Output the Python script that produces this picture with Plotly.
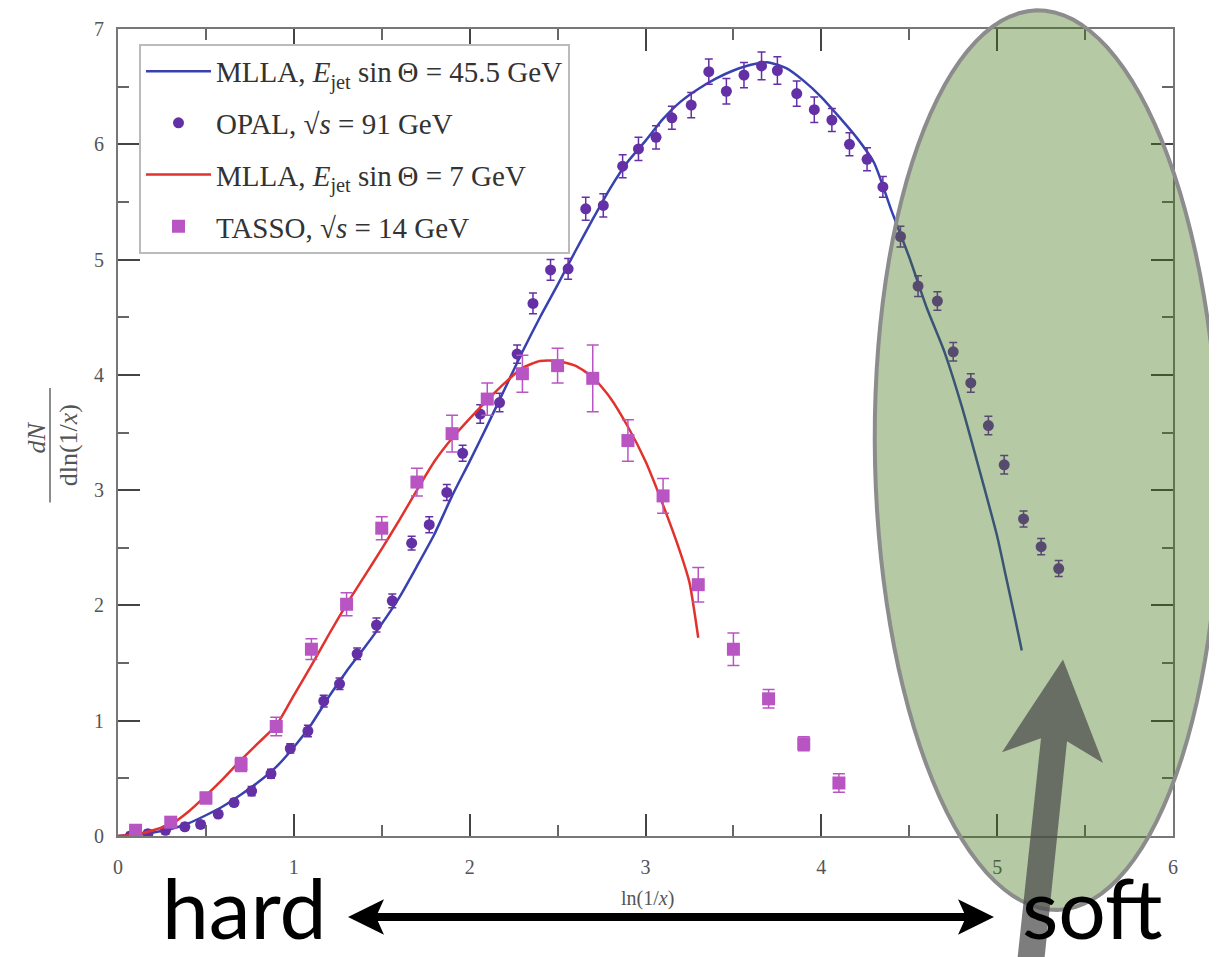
import math
import plotly.graph_objects as go

# ---------------- data ----------------
mlla45_x = [0.0, 0.1, 0.2, 0.3, 0.4, 0.5, 0.6, 0.7, 0.8, 0.9, 1.0, 1.1, 1.2, 1.3, 1.4, 1.5,
            1.6, 1.7, 1.8, 1.9, 2.0, 2.1, 2.2, 2.3, 2.4, 2.5, 2.6, 2.7, 2.8, 2.9, 3.0, 3.1,
            3.2, 3.3, 3.4, 3.5, 3.6, 3.7, 3.8, 3.9, 4.0, 4.1, 4.2, 4.3, 4.4, 4.5, 4.6, 4.7,
            4.8, 4.9, 5.0, 5.05, 5.1, 5.14]
mlla45_y = [0.0, 0.01, 0.03, 0.06, 0.11, 0.18, 0.26, 0.36, 0.47, 0.60, 0.77, 0.97, 1.21, 1.43,
            1.63, 1.84, 2.07, 2.34, 2.62, 2.95, 3.25, 3.56, 3.88, 4.20, 4.50, 4.78, 5.07, 5.35,
            5.62, 5.85, 6.03, 6.22, 6.37, 6.48, 6.57, 6.64, 6.69, 6.71, 6.66, 6.55, 6.41, 6.24,
            6.06, 5.84, 5.42, 5.02, 4.58, 4.20, 3.72, 3.17, 2.60, 2.25, 1.90, 1.61]

mlla7_x = [0.0, 0.1, 0.2, 0.3, 0.4, 0.5, 0.6, 0.7, 0.8, 0.9, 1.0, 1.1, 1.2, 1.3, 1.4, 1.5,
           1.6, 1.7, 1.8, 1.9, 2.0, 2.1, 2.2, 2.3, 2.4, 2.5, 2.6, 2.7, 2.8, 2.9, 3.0, 3.1,
           3.2, 3.25, 3.3]
mlla7_y = [0.0, 0.01, 0.05, 0.10, 0.21, 0.35, 0.50, 0.66, 0.81, 0.96, 1.22, 1.48, 1.75, 2.01,
           2.25, 2.49, 2.74, 3.00, 3.25, 3.45, 3.62, 3.78, 3.93, 4.06, 4.12, 4.12, 4.08, 3.98,
           3.80, 3.55, 3.25, 2.87, 2.45, 2.20, 1.72]

opal_x = [0.07, 0.17, 0.27, 0.38, 0.47, 0.57, 0.66, 0.76, 0.87, 0.98, 1.08, 1.17, 1.26, 1.36,
          1.47, 1.56, 1.67, 1.77, 1.87, 1.96, 2.06, 2.17, 2.27, 2.36, 2.46, 2.56, 2.66, 2.76,
          2.87, 2.96, 3.06, 3.15, 3.26, 3.36, 3.46, 3.56, 3.66, 3.75, 3.86, 3.96, 4.06, 4.16,
          4.26, 4.35, 4.45, 4.55, 4.66, 4.75, 4.85, 4.95, 5.04, 5.15, 5.25, 5.35]
opal_y = [0.00, 0.02, 0.05, 0.08, 0.10, 0.19, 0.29, 0.39, 0.54, 0.76, 0.91, 1.17, 1.32, 1.58,
          1.83, 2.04, 2.54, 2.70, 2.98, 3.32, 3.66, 3.76, 4.18, 4.62, 4.91, 4.92, 5.44, 5.47,
          5.81, 5.96, 6.06, 6.23, 6.34, 6.63, 6.46, 6.60, 6.68, 6.64, 6.44, 6.30, 6.21, 6.00,
          5.87, 5.63, 5.20, 4.77, 4.64, 4.20, 3.93, 3.56, 3.22, 2.75, 2.51, 2.32]
opal_err = [0.03, 0.03, 0.03, 0.03, 0.03, 0.03, 0.03, 0.04, 0.04, 0.04, 0.05, 0.05, 0.05, 0.05,
            0.06, 0.06, 0.06, 0.07, 0.07, 0.07, 0.08, 0.08, 0.08, 0.09, 0.09, 0.09, 0.10, 0.10,
            0.10, 0.10, 0.10, 0.10, 0.11, 0.11, 0.11, 0.11, 0.12, 0.12, 0.11, 0.11, 0.10, 0.10,
            0.10, 0.09, 0.09, 0.09, 0.08, 0.08, 0.08, 0.08, 0.08, 0.07, 0.07, 0.07]

tasso_x = [0.1, 0.3, 0.5, 0.7, 0.9, 1.1, 1.3, 1.5, 1.7, 1.9, 2.1, 2.3, 2.5, 2.7, 2.9, 3.1,
           3.3, 3.5, 3.7, 3.9, 4.1]
tasso_y = [0.05, 0.12, 0.33, 0.62, 0.95, 1.62, 2.01, 2.67, 3.07, 3.49, 3.79, 4.01, 4.08, 3.97,
           3.43, 2.95, 2.18, 1.62, 1.19, 0.80, 0.46]
tasso_err = [0.03, 0.04, 0.05, 0.06, 0.08, 0.09, 0.10, 0.10, 0.12, 0.16, 0.14, 0.16, 0.15, 0.29,
             0.18, 0.15, 0.15, 0.14, 0.08, 0.06, 0.08]

x_ticks = [0, 1, 2, 3, 4, 5, 6]
y_ticks = [0, 1, 2, 3, 4, 5, 6, 7]

legend_names = [
    "MLLA, <i>E</i><sub>jet</sub> sin\u2009\u0398 = 45.5 GeV",
    "OPAL, \u221a<i>s</i> = 91 GeV",
    "MLLA, <i>E</i><sub>jet</sub> sin\u2009\u0398 = 7 GeV",
    "TASSO, \u221a<i>s</i> = 14 GeV",
]

# ---------------- geometry helpers (overlay decorations) ----------------
# the page body has an 8px margin, so the figure starts at (8, 8) in the window
OFF = 8
FW, FH = 1209, 949
ML, MR, MT, MB = 110, 44, 10, 121
PW, PH = FW - ML - MR, FH - MT - MB


def pp(px, py):
    """window pixel -> paper coordinates"""
    fx, fy = px - OFF, py - OFF
    return (fx - ML) / PW, (FH - MB - fy) / PH


def path_from(points, close=True):
    s = ""
    for i, (px, py) in enumerate(points):
        x, y = pp(px, py)
        s += ("M" if i == 0 else "L") + f"{x:.5f},{y:.5f} "
    return s + ("Z" if close else "")


# ellipse (slightly tilted)
cx, cy, ea, eb, phi = 1047, 455, 172, 456, math.radians(-1.3)
ell = []
for k in range(121):
    t = 2 * math.pi * k / 120
    ex = cx + ea * math.cos(t) * math.cos(phi) - eb * math.sin(t) * math.sin(phi)
    ey = cy + ea * math.cos(t) * math.sin(phi) + eb * math.sin(t) * math.cos(phi)
    ell.append((ex, ey))

big_arrow = [(1063, 657), (1103, 762), (1067, 740), (1044, 965), (1017, 965), (1041, 737), (1002, 751)]
left_head = [(348, 918), (384, 900), (376, 918), (384, 936)]
right_head = [(994, 918), (958, 900), (966, 918), (958, 936)]

fig = go.Figure()

blue = "rgb(55,65,175)"
red = "rgb(225,50,45)"
opal_c = "rgb(100,48,165)"
tasso_c = "rgb(185,85,195)"

fig.add_trace(go.Scatter(x=mlla45_x, y=mlla45_y, mode="lines", name=legend_names[0],
                         line=dict(color=blue, width=2.5, shape="spline", smoothing=0.6),
                         legendgroup="a"))
fig.add_trace(go.Scatter(x=opal_x, y=opal_y, mode="markers", name=legend_names[1],
                         marker=dict(color=opal_c, size=11, symbol="circle"),
                         error_y=dict(type="data", array=opal_err, color=opal_c, thickness=1.5, width=4),
                         legendgroup="b"))
fig.add_trace(go.Scatter(x=mlla7_x, y=mlla7_y, mode="lines", name=legend_names[2],
                         line=dict(color=red, width=2.5, shape="spline", smoothing=0.6),
                         legendgroup="c"))
fig.add_trace(go.Scatter(x=tasso_x, y=tasso_y, mode="markers", name=legend_names[3],
                         marker=dict(color=tasso_c, size=13, symbol="square"),
                         error_y=dict(type="data", array=tasso_err, color=tasso_c, thickness=1.5, width=6),
                         legendgroup="d"))

axis_common = dict(showline=True, linecolor="#777", linewidth=2, mirror="ticks",
                   ticks="inside", ticklen=22, tickwidth=2, tickcolor="#444",
                   showgrid=False, zeroline=False,
                   tickfont=dict(family="Liberation Serif, serif", size=20, color="#555"),
                   minor=dict(ticks="inside", ticklen=11, tickwidth=1.5, tickcolor="#666",
                              dtick=0.5, showgrid=False))

fig.update_xaxes(range=[0, 6], tickmode="array", tickvals=x_ticks,
                 ticktext=[str(v) for v in x_ticks], ticklabelstandoff=12, **axis_common)
fig.update_yaxes(range=[0, 7], tickmode="array", tickvals=y_ticks,
                 ticktext=[str(v) for v in y_ticks], ticklabelstandoff=8, **axis_common)

shapes = [
    dict(type="path", xref="paper", yref="paper", path=path_from(ell),
         fillcolor="rgba(65,116,24,0.39)", line=dict(color="rgb(140,140,140)", width=4), layer="above"),
    dict(type="path", xref="paper", yref="paper", path=path_from(big_arrow),
         fillcolor="rgba(75,75,75,0.72)", line=dict(width=0), layer="above"),
    dict(type="line", xref="paper", yref="paper",
         x0=pp(374, 918)[0], y0=pp(374, 918)[1], x1=pp(968, 918)[0], y1=pp(968, 918)[1],
         line=dict(color="black", width=8), layer="above"),
    dict(type="path", xref="paper", yref="paper", path=path_from(left_head),
         fillcolor="black", line=dict(width=0), layer="above"),
    dict(type="path", xref="paper", yref="paper", path=path_from(right_head),
         fillcolor="black", line=dict(width=0), layer="above"),
    # fraction bar of the y-axis title
    dict(type="line", xref="paper", yref="paper",
         x0=pp(50, 382)[0], y0=pp(50, 382)[1], x1=pp(50, 498)[0], y1=pp(50, 498)[1],
         line=dict(color="#666", width=1.5)),
]

serif = "Liberation Serif, serif"
big = "Lato, sans-serif"


def ann(text, px, py, size, family, color, xa="center", ya="middle", angle=0):
    x, y = pp(px, py)
    return dict(text=text, x=x, y=y, xref="paper", yref="paper", showarrow=False,
                xanchor=xa, yanchor=ya, textangle=angle,
                font=dict(family=family, size=size, color=color))


annotations = [
    ann("<i>dN</i>", 36, 432, 26, serif, "#555", angle=-90),
    ann("dln(1/<i>x</i>)", 68, 440, 26, serif, "#555", angle=-90),
    ann("ln(1/<i>x</i>)", 647, 899, 20, serif, "#555"),
    ann("hard", 160, 907, 84, big, "black", xa="left"),
    ann("soft", 1020, 907, 84, big, "black", xa="left"),
]

lx, ly = pp(139, 33)
fig.update_layout(
    width=FW, height=FH,
    margin=dict(l=ML, r=MR, t=MT, b=MB, pad=0),
    paper_bgcolor="white", plot_bgcolor="white",
    shapes=shapes, annotations=annotations,
    legend=dict(x=lx, y=ly, xanchor="left", yanchor="top", bgcolor="white",
                bordercolor="#bbb", borderwidth=2, traceorder="grouped", tracegroupgap=11,
                itemwidth=65,
                font=dict(family=serif, size=29, color="#333")),
    showlegend=True,
)

fig.write_html("out.html")
